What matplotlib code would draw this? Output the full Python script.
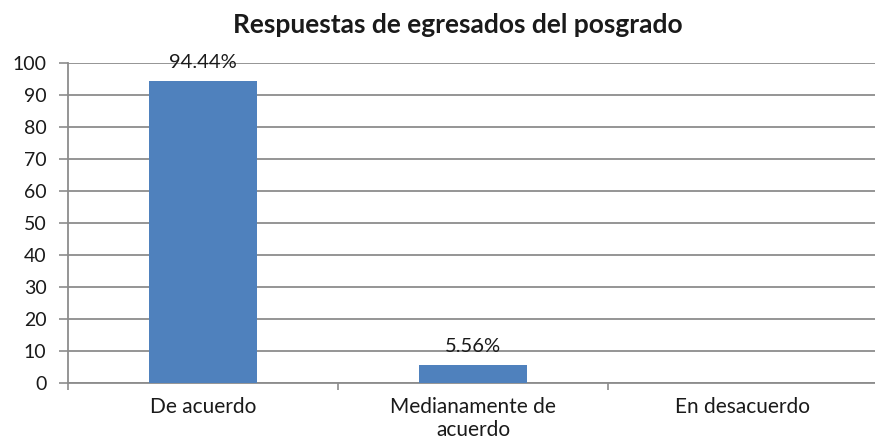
import matplotlib
matplotlib.use("Agg")
import matplotlib.pyplot as plt
import numpy as np

categories = ["De acuerdo", "Medianamente de\nacuerdo", "En desacuerdo"]
values = [94.44, 5.56, 0]
value_labels = ["94.44%", "5.56%", ""]
yticks = list(range(0, 101, 10))
title = "Respuestas de egresados del posgrado"

plt.rcParams['font.family'] = ['Lato', 'DejaVu Sans']
txt = "#1a1a1a"
grid_c = "#8c8c8c"

fig = plt.figure(figsize=(8.75, 4.42), dpi=100)
ax = fig.add_axes([68/875, 59/442, 810/875, 320/442])

x = np.arange(len(categories))
ax.bar(x, values, width=0.4, color="#4F81BD", zorder=3)

for xi, v, lab in zip(x, values, value_labels):
    if lab:
        ax.annotate(lab, (xi, v), xytext=(0, 7), textcoords="offset points",
                    ha="center", va="bottom", fontsize=14.5, color=txt)

ax.set_ylim(0, 100)
ax.set_yticks(yticks)
ax.set_xlim(-0.5, 2.5)
ax.set_xticks(np.arange(-0.5, 3.0, 1.0))
ax.set_xticklabels([])
ax.set_xticks(x, minor=True)
ax.set_xticklabels(categories, minor=True, fontsize=15, color=txt, linespacing=1.22)
ax.tick_params(axis="x", which="minor", length=0, pad=10)
ax.tick_params(axis="x", which="major", length=5, color=grid_c, width=1.2)
ax.tick_params(axis="y", length=6.5, color=grid_c, width=1.2, labelsize=14, labelcolor=txt, pad=9)

ax.yaxis.grid(True, color=grid_c, linewidth=1.3, zorder=0)
ax.set_axisbelow(True)
for s in ["top", "right"]:
    ax.spines[s].set_visible(False)
for s in ["left", "bottom"]:
    ax.spines[s].set_color(grid_c)
    ax.spines[s].set_linewidth(1.3)

fig.text(458/875, 1 - 25/442, title, ha="center", va="center", fontsize=19, fontweight="bold", color=txt)

fig.savefig("out.png", dpi=100)
